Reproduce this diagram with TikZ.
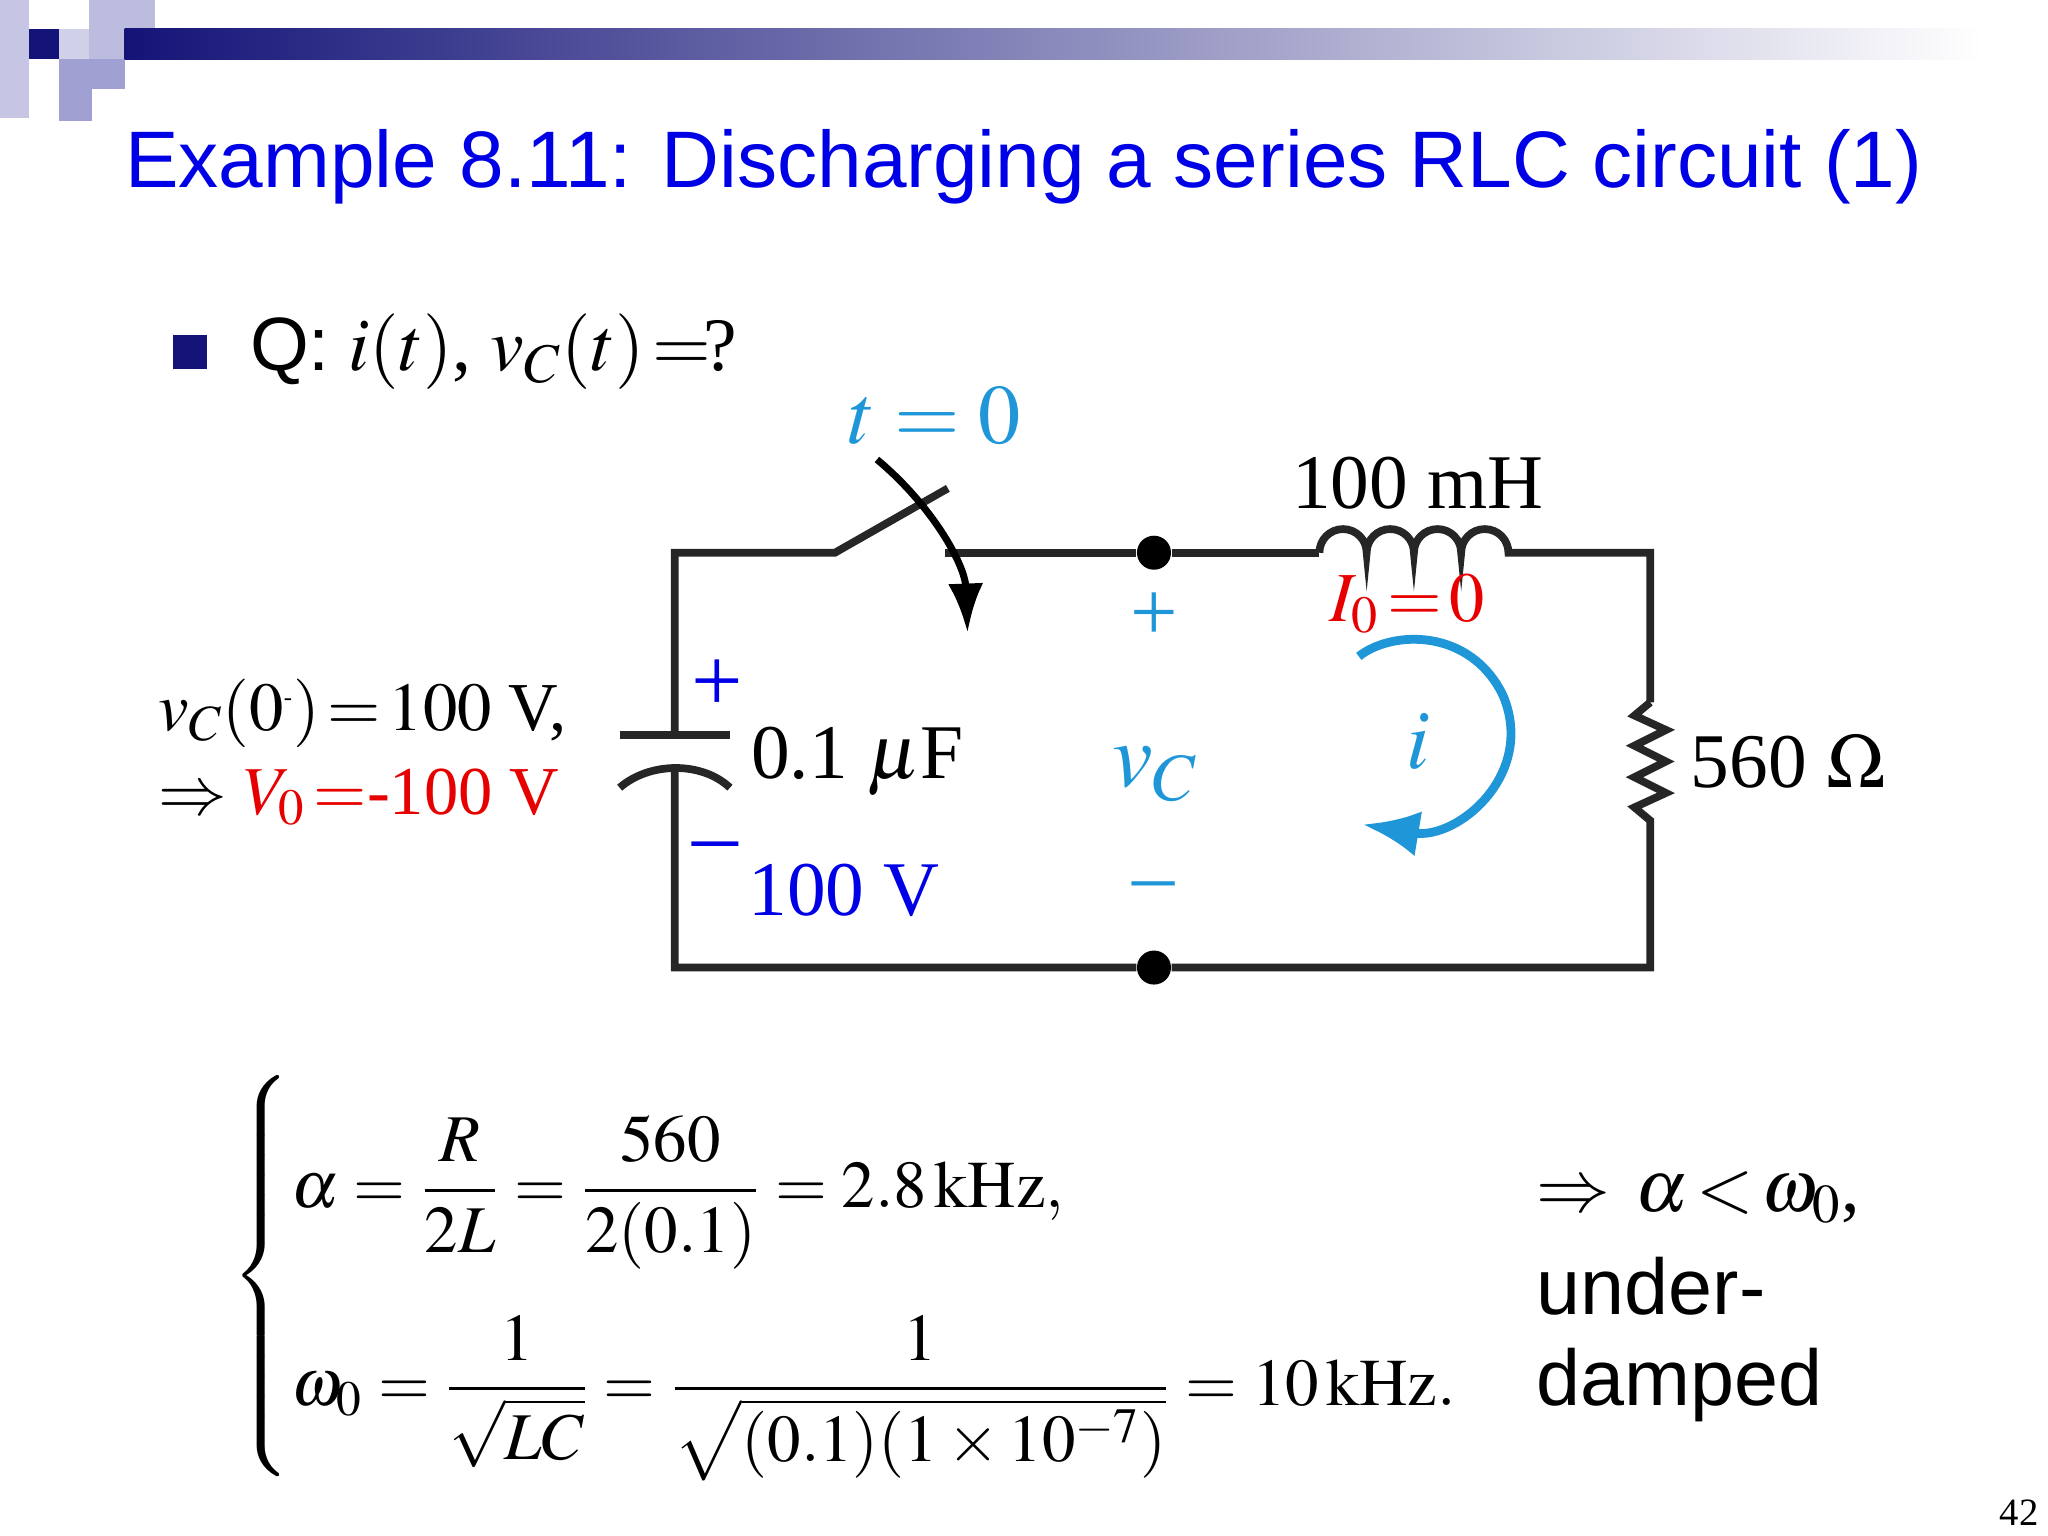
\documentclass[tikz,border=0pt]{standalone}
\usepackage{amsmath}
\usepackage{mathptmx}
\usepackage{fontspec}
\setmainfont{Liberation Serif}
\newfontfamily\sans{Liberation Sans}
\usetikzlibrary{arrows.meta}
\definecolor{navy}{RGB}{20,20,120}
\definecolor{ttl}{RGB}{0,0,230}
\definecolor{cy}{RGB}{30,150,215}
\definecolor{bl}{RGB}{0,0,230}
\definecolor{rd}{RGB}{230,0,0}
\definecolor{lav}{RGB}{160,160,210}
\def\s{0.013128}
\tikzset{wire/.style={line width=2.2pt,black!85},
 lbl/.style={inner sep=0pt,font=\fontsize{21}{24}\selectfont},
 dot/.style={circle,fill=black,inner sep=0pt,minimum size=0.34cm}}
\begin{document}
\begin{tikzpicture}[x=\s cm,y=-\s cm]
\useasboundingbox (0,0) rectangle (1560,1170);
% logo
\fill[lav!60] (0,0) rectangle (22,90);
\fill[lav!70] (68,0) rectangle (118,45);
\fill[lav] (45,45) rectangle (95,68);
\fill[lav] (45,68) rectangle (70,92);
\fill[lav!80] (95,22) rectangle (118,45);
\shade[left color=navy,right color=white] (95,22) rectangle (1510,45);
\fill[navy] (22,22) rectangle (45,45);
\fill[lav!50] (45,22) rectangle (68,45);
\node[anchor=west,inner sep=0pt,text=ttl,font=\sans\fontsize{22.8}{26}\selectfont] (title) at (95,127) {Example 8.11: Discharging a series RLC circuit (1)};
% bullet
\fill[navy] (132,255) rectangle (158,281);
\node[anchor=west,inner sep=0pt,font=\fontsize{21.5}{26}\selectfont] (q) at (190,268) {{\sans Q:} $i(t)$, $v_C(t)\!=\!$?};
% circuit
\coordinate (tl) at (514,421); \coordinate (bl) at (514,737);
\coordinate (sw1) at (636,421); \coordinate (sw2) at (722,372);
\coordinate (cp1) at (514,560); \coordinate (cp2) at (514,585);
\node[dot] (na) at (879,421) {};
\node[dot] (nb) at (879,737) {};
\coordinate (l1) at (1005,421); \coordinate (l2) at (1150,421);
\coordinate (tr) at (1257,421); \coordinate (br) at (1257,737);
\coordinate (r1) at (1257,535); \coordinate (r2) at (1257,625);
\draw[wire] (cp1) -- (tl) -- (sw1) -- (sw2);
\draw[wire] (720,421) -- (na) -- (l1);
\draw[wire] (l1) arc(180:360:18) arc(180:360:18) arc(180:360:18) arc(180:360:18) -- (l2) -- (tr) -- (r1);
\draw[wire] (r1) -- (1245,545) -- (1269,556) -- (1245,568) -- (1269,580) -- (1245,592) -- (1269,604) -- (1245,615) -- (r2) -- (br) -- (nb) -- (bl) -- (cp2);
\draw[wire] (472,560) -- (556,560);
\draw[wire] (472,600) .. controls (495,580) and (535,580) .. (556,600);
\draw[line width=2pt,-{Latex[length=14pt,width=10pt]}] (668,350) .. controls (710,385) and (735,430) .. (737,482);
\draw[cy,line width=2.5pt,-{Latex[length=16pt,width=13pt]}] (1035,500) .. controls (1060,480) and (1120,478) .. (1145,530) .. controls (1170,590) and (1110,640) .. (1038,628);
% labels
\node[lbl,text=cy,font=\fontsize{24}{28}\selectfont] (t0) at (712,317) {$t=0$};
\node[lbl,font=\fontsize{22}{26}\selectfont] (lh) at (1080,368) {100 mH};
\node[lbl,text=rd,font=\fontsize{20}{24}\selectfont] (i0) at (1072,460) {$I_0\!=\!0$};
\node[lbl,text=cy,font=\fontsize{24}{28}\selectfont] (pl) at (879,470) {+};
\node[lbl,text=cy,font=\fontsize{26}{28}\selectfont] (vc) at (880,590) {$v_C$};
\node[lbl,text=cy,font=\fontsize{24}{28}\selectfont] (mi) at (879,680) {--};
\node[lbl,text=cy,font=\fontsize{24}{28}\selectfont] (ii) at (1080,565) {$i$};
\node[lbl,text=bl,font=\fontsize{26}{28}\selectfont] (cp) at (546,522) {+};
\node[lbl,text=bl,font=\fontsize{26}{28}\selectfont] (cm) at (545,650) {--};
\node[lbl,font=\fontsize{22}{26}\selectfont] (cf) at (653,580) {0.1 $\mu$F};
\node[lbl,text=bl,font=\fontsize{22}{26}\selectfont] (cv) at (643,678) {100 V};
\node[lbl,font=\fontsize{22}{26}\selectfont] (rv) at (1362,580) {560 $\Omega$};
\node[lbl,anchor=west,font=\fontsize{19.5}{24}\selectfont] (ic1) at (120,543) {$v_C(0^{\mbox{\scriptsize -}})\!=\!100$ V,};
\node[lbl,anchor=west,font=\fontsize{19.5}{24}\selectfont] (ic2) at (120,607) {$\Rightarrow$ \textcolor{rd}{$V_0\!=$-100 V}};
% equations
\node[inner sep=0pt,anchor=west,font=\fontsize{19}{24}\selectfont] (eq) at (176,972) {$\left\{\renewcommand{\arraystretch}{2.3}\begin{array}{@{}l}
\alpha=\dfrac{R}{2L}=\dfrac{560}{2(0.1)}=2.8\,\mathrm{kHz},\\
\omega_0=\dfrac{1}{\sqrt{LC}}=\dfrac{1}{\sqrt{(0.1)(1\times10^{-7})}}=10\,\mathrm{kHz}.
\end{array}\right.$};
\node[lbl,anchor=west,font=\fontsize{21}{26}\selectfont] (ud1) at (1170,912) {$\Rightarrow\,\alpha\!<\!\omega_0$,};
\node[lbl,anchor=west,font=\sans\fontsize{22.5}{26}\selectfont] (ud2) at (1170,980) {under-};
\node[lbl,anchor=west,font=\sans\fontsize{22.5}{26}\selectfont] (ud3) at (1170,1055) {damped};
\node[lbl,font=\fontsize{11}{12}\selectfont] (pg) at (1538,1152) {42};
\end{tikzpicture}
\end{document}
